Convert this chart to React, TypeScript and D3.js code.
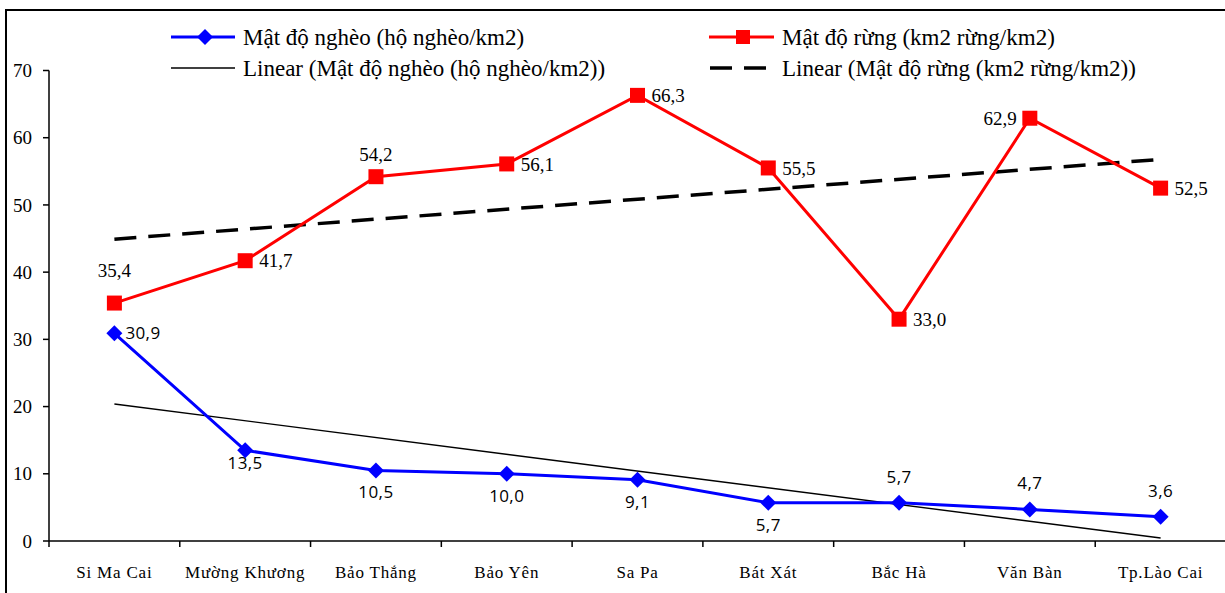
import React from "react";
import * as d3 from "d3";

const categories = ["Si Ma Cai", "Mường Khương", "Bảo Thắng", "Bảo Yên", "Sa Pa", "Bát Xát", "Bắc Hà", "Văn Bàn", "Tp.Lào Cai"];
const povertyDensity = [30.9, 13.5, 10.5, 10.0, 9.1, 5.7, 5.7, 4.7, 3.6];
const forestDensity = [35.4, 41.7, 54.2, 56.1, 66.3, 55.5, 33.0, 62.9, 52.5];
const yTicks = [0, 10, 20, 30, 40, 50, 60, 70];
const povertyLabelPos = ["right", "belowNear", "below", "below", "below", "below", "above", "above", "above"];
const forestLabelPos = ["aboveFar", "right", "aboveNear", "right", "right", "right", "right", "left", "right"];
const legendLabels = [
  "Mật độ nghèo (hộ nghèo/km2)",
  "Mật độ rừng (km2 rừng/km2)",
  "Linear (Mật độ nghèo (hộ nghèo/km2))",
  "Linear (Mật độ rừng (km2 rừng/km2))",
];

function linReg(vals: number[]) {
  const n = vals.length;
  const xs = vals.map((_, i) => i + 1);
  const mx = d3.mean(xs) as number;
  const my = d3.mean(vals) as number;
  let sxy = 0, sxx = 0;
  xs.forEach((x, i) => { sxy += (x - mx) * (vals[i] - my); sxx += (x - mx) * (x - mx); });
  const b = sxy / sxx;
  const a = my - b * mx;
  return [a + b * 1, a + b * n];
}

const fmt = (v: number) => v.toFixed(1).replace(".", ",");

export default function App() {
  const W = 1225, H = 593;
  const x0 = 49, x1 = 1226;
  const x = d3.scaleBand<string>().domain(categories).range([x0, x1]);
  const cx = (i: number) => (x(categories[i]) as number) + x.bandwidth() / 2;
  const y = d3.scaleLinear().domain([0, 70]).range([541, 70.5]);
  const line = d3.line<number>().x((_, i) => cx(i)).y((d) => y(d));

  const pTrend = linReg(povertyDensity);
  const fTrend = linReg(forestDensity);
  const serif = "Liberation Serif";
  const sans = "Open Sans";

  const diamond = (px: number, py: number, r: number) =>
    `M${px},${py - r}L${px + r},${py}L${px},${py + r}L${px - r},${py}Z`;

  // returns label anchor point (text vertically centred on y)
  const labelProps = (pos: string, px: number, py: number) => {
    if (pos === "right") return { x: px + 13, y: py, anchor: "start" };
    if (pos === "left") return { x: px - 13, y: py, anchor: "end" };
    if (pos === "above") return { x: px, y: py - 26, anchor: "middle" };
    if (pos === "aboveNear") return { x: px, y: py - 22, anchor: "middle" };
    if (pos === "aboveFar") return { x: px, y: py - 33, anchor: "middle" };
    if (pos === "belowNear") return { x: px, y: py + 13, anchor: "middle" };
    return { x: px, y: py + 22, anchor: "middle" };
  };

  return (
    <svg width={W} height={H} style={{ position: "absolute", left: 0, top: 0 }}>
      <rect x={0} y={0} width={W} height={H} fill="#fff" />
      <rect x={6} y={10} width={W + 20} height={H + 20} fill="none" stroke="#000" strokeWidth={2} />

      {/* Y axis */}
      <line x1={x0} x2={x0} y1={y(70)} y2={y(0)} stroke="#000" strokeWidth={1.5} />
      {yTicks.map((t) => (
        <g key={t}>
          <line x1={x0 - 6} x2={x0} y1={y(t)} y2={y(t)} stroke="#000" strokeWidth={1.5} />
          <text x={32} y={y(t)} dy="0.35em" textAnchor="end" style={{ fontFamily: serif, fontSize: 19 }}>{t}</text>
        </g>
      ))}

      {/* X axis */}
      <line x1={x0} x2={x1} y1={y(0)} y2={y(0)} stroke="#000" strokeWidth={1.5} />
      {categories.map((c, i) => (
        <g key={c}>
          <line x1={x(c) as number} x2={x(c) as number} y1={y(0)} y2={y(0) + 6} stroke="#000" strokeWidth={1.5} />
          <text x={cx(i)} y={578} textAnchor="middle" style={{ fontFamily: serif, fontSize: 17, letterSpacing: 0.8 }}>{c}</text>
        </g>
      ))}

      {/* trendlines */}
      <line x1={cx(0)} x2={cx(categories.length - 1)} y1={y(pTrend[0])} y2={y(pTrend[1])} stroke="#000" strokeWidth={1.4} />
      <line x1={cx(0)} x2={cx(categories.length - 1)} y1={y(fTrend[0])} y2={y(fTrend[1])} stroke="#000" strokeWidth={3.5} strokeDasharray="22,12" />

      {/* series */}
      <path d={line(forestDensity) as string} fill="none" stroke="#ff0000" strokeWidth={3} />
      <path d={line(povertyDensity) as string} fill="none" stroke="#0000ff" strokeWidth={3} />
      {forestDensity.map((v, i) => (
        <rect key={"f" + i} x={cx(i) - 7.5} y={y(v) - 7.5} width={15} height={15} fill="#ff0000" />
      ))}
      {povertyDensity.map((v, i) => (
        <path key={"p" + i} d={diamond(cx(i), y(v), 8)} fill="#0000ff" />
      ))}

      {/* labels */}
      {forestDensity.map((v, i) => {
        const l = labelProps(forestLabelPos[i], cx(i), y(v));
        return (
          <text key={"fl" + i} x={l.x + (forestLabelPos[i] === "right" ? 1 : 0)} y={l.y} dy="0.35em" textAnchor={l.anchor as any} style={{ fontFamily: serif, fontSize: 19 }}>{fmt(v)}</text>
        );
      })}
      {povertyDensity.map((v, i) => {
        const l = labelProps(povertyLabelPos[i], cx(i), y(v));
        return (
          <text key={"pl" + i} x={l.x - (povertyLabelPos[i] === "right" ? 2 : 0)} y={l.y} dy="0.35em" textAnchor={l.anchor as any} style={{ fontFamily: sans, fontSize: 17, letterSpacing: 0.4 }}>{fmt(v)}</text>
        );
      })}

      {/* legend */}
      <g style={{ fontFamily: serif, fontSize: 23 }}>
        <line x1={171} x2={235} y1={37} y2={37} stroke="#0000ff" strokeWidth={3} />
        <path d={diamond(205, 37, 8)} fill="#0000ff" />
        <text x={243} y={37} dy="0.35em">{legendLabels[0]}</text>

        <line x1={709} x2={774} y1={37} y2={37} stroke="#ff0000" strokeWidth={3} />
        <rect x={736} y={30} width={14} height={14} fill="#ff0000" />
        <text x={782} y={37} dy="0.35em">{legendLabels[1]}</text>

        <line x1={171} x2={235} y1={68} y2={68} stroke="#000" strokeWidth={1.4} />
        <text x={243} y={68} dy="0.35em">{legendLabels[2]}</text>

        <line x1={710} x2={774} y1={68} y2={68} stroke="#000" strokeWidth={3.5} strokeDasharray="22,12" />
        <text x={782} y={68} dy="0.35em">{legendLabels[3]}</text>
      </g>
    </svg>
  );
}
